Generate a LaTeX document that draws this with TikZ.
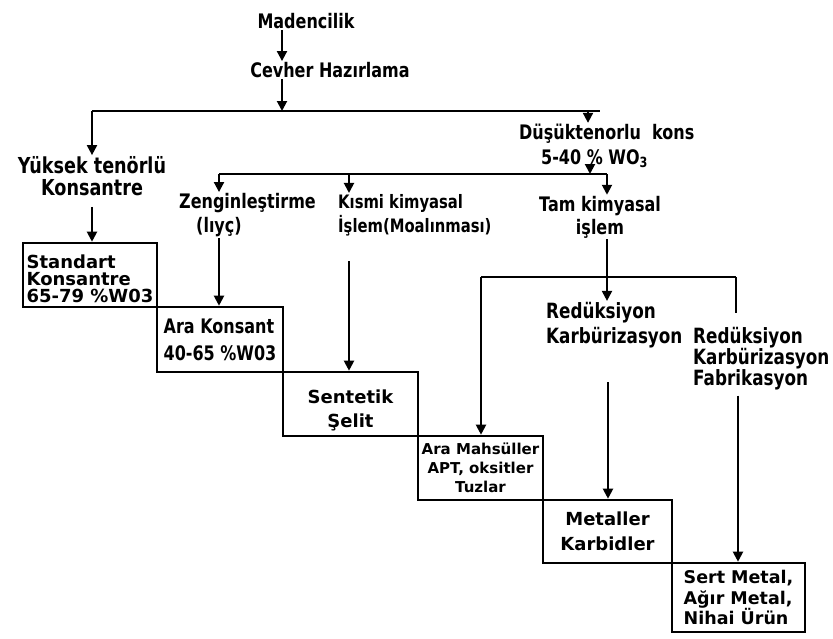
\documentclass[tikz,border=0pt]{standalone}
\usepackage{fontspec}
\setmainfont{DejaVu Sans}[FakeStretch=0.8]
\newfontfamily\widefont{DejaVu Sans}[FakeStretch=1.0]
\usetikzlibrary{arrows.meta}
\begin{document}
\begin{tikzpicture}[x=1pt,y=-1pt,
  lbl/.style={font=\bfseries\fontsize{20}{24}\selectfont, inner sep=1pt},
  ln/.style={line width=2pt},
  arr/.style={ln, -{Triangle[length=10pt,width=10pt]}},
  box/.style={draw, line width=2.6pt, inner sep=2pt}]
\useasboundingbox (0,0) rectangle (833,638);
% column positions
\coordinate (cm) at (282,0);
\coordinate (c0) at (92,0);
\coordinate (c2) at (349,0);
\coordinate (c4) at (608,0);
\coordinate (c5) at (738,0);
\coordinate (cd) at (590,0);
\coordinate (ce) at (588,0);
\coordinate (ct) at (607,0);
% labels
\node[lbl] (mad) at (306,21) {Madencilik};
\node[lbl] (cev) at (330,70) {Cevher Hazırlama};
\node[lbl, align=center, font=\bfseries\fontsize{22}{22}\selectfont] (yuk) at (92,176) {Yüksek tenörlü\\Konsantre};
\node[lbl, align=left, anchor=west, font=\bfseries\fontsize{20}{25}\selectfont] (dus) at (518,146) {Düşüktenorlu\ \ kons\\\hspace*{22pt}5-40 \% WO\textsubscript{3}};
\node[lbl, align=left, anchor=west] (zen) at (178,215) {Zenginleştirme\\\hspace*{17pt}(lıyç)};
\node[lbl, align=left, anchor=west, font=\bfseries\fontsize{18.5}{24}\selectfont] (kis) at (337,215) {Kısmi kimyasal\\İşlem(Moalınması)};
\node[lbl, align=center, font=\bfseries\fontsize{20}{23}\selectfont] (tam) at (600,217) {Tam kimyasal\\işlem};
\node[lbl, align=left, anchor=west, font=\bfseries\fontsize{21}{25}\selectfont] (red1) at (545,325) {Redüksiyon\\Karbürizasyon};
\node[lbl, align=left, anchor=west, font=\bfseries\fontsize{21}{21}\selectfont] (red2) at (692,359) {Redüksiyon\\Karbürizasyon\\Fabrikasyon};
% staircase boxes
\node[box, minimum width=134, minimum height=64, align=left, font=\widefont\bfseries\fontsize{18}{17}\selectfont] (s1) at (90,275) {\rule{0pt}{22pt}Standart\\Konsantre\\65-79 \%W03};
\node[box, minimum width=126, minimum height=65, align=left, font=\bfseries\fontsize{20}{27}\selectfont] (s2) at (220,339.5) {Ara Konsant\\40-65 \%W03};
\node[box, minimum width=135, minimum height=64, align=center, font=\widefont\bfseries\fontsize{18}{24}\selectfont] (s3) at (350.5,404) {\rule{0pt}{27pt}Sentetik\\Şelit};
\node[box, minimum width=125, minimum height=64, align=center, font=\widefont\bfseries\fontsize{15}{19}\selectfont] (s4) at (480.5,468) {Ara Mahsüller\\APT, oksitler\\Tuzlar};
\node[box, minimum width=129, minimum height=63, align=center, font=\widefont\bfseries\fontsize{18}{25}\selectfont] (s5) at (607.5,531.5) {Metaller\\Karbidler};
\node[box, minimum width=133, minimum height=69, align=left, font=\widefont\bfseries\fontsize{17.5}{20.5}\selectfont] (s6) at (738.5,597.5) {Sert Metal,\\Ağır Metal,\\Nihai Ürün};
% bus lines
\coordinate (b1L) at (92,111);
\coordinate (b1R) at (600,111);
\coordinate (b2L) at (219,174);
\coordinate (b2R) at (607,174);
\coordinate (b3L) at (481,277);
\coordinate (b3R) at (736,277);
\draw[ln] (b1L) -- (b1R);
\draw[ln] (b2L) -- (b2R);
\draw[ln] (b3L) -- (b3R);
% connectors
\draw[arr] (mad.south -| cm) -- (cev.north -| cm);
\draw[arr] (cev.south -| cm) -- (b1L -| cm);
\draw[arr] (b1L) -- (yuk.north -| b1L);
\draw[arr] (b1R -| ce) -- (dus.north -| ce);
\draw[arr] (dus.south -| cd) -- (b2L -| cd);
\draw[arr] (b2L) -- (zen.north -| b2L);
\draw[arr] (b2L -| c2) -- (kis.north -| c2);
\draw[arr] (b2R) -- (tam.north -| b2R);
\draw[arr, shorten <=10pt] (yuk.south -| c0) -- (s1.north -| c0);
\draw[arr] (zen.south -| b2L) -- (s2.north -| b2L);
\draw[arr, shorten <=24pt] (kis.south -| c2) -- (s3.north -| c2);
\draw[arr] (tam.south -| ct) -- (red1.north -| ct);
\draw[arr] (b3L) -- (s4.north -| b3L);
\draw[ln, shorten >=13pt] (b3R) -- (red2.north -| b3R);
\draw[arr, shorten <=33pt] (red1.south -| c4) -- (s5.north -| c4);
\draw[arr, shorten <=4pt] (red2.south -| c5) -- (s6.north -| c5);
\end{tikzpicture}
\end{document}
